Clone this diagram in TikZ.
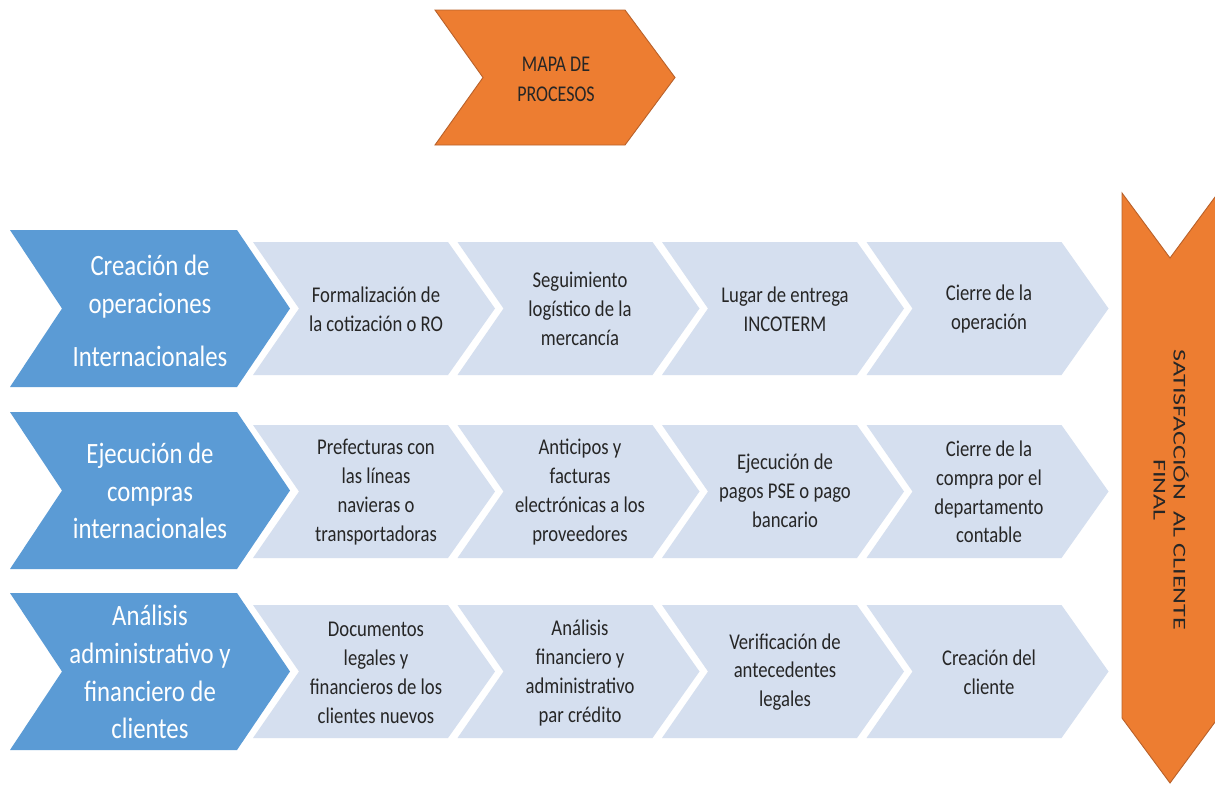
\documentclass[tikz,border=0pt]{standalone}
\usepackage{fontspec}
\setmainfont{Carlito}
\newfontfamily\bluefont{Carlito}[FakeStretch=0.84]
\newfontfamily\lightfont{Carlito}[FakeStretch=0.83]
\newfontfamily\mapfont{Carlito}[FakeStretch=0.8]
\newfontfamily\rotfont{Carlito}[FakeStretch=1.45]
\definecolor{blueA}{HTML}{5B9BD5}
\definecolor{lightA}{HTML}{D5DFEF}
\definecolor{orangeA}{HTML}{ED7D31}
\definecolor{orangeD}{HTML}{B9612A}
\definecolor{textD}{HTML}{262626}
\tikzset{
  bluechev/.style={fill=blueA},
  lightchev/.style={fill=lightA},
  orangechev/.style={fill=orangeA, draw=orangeD, line width=0.9pt, line join=miter},
  bluetext/.style={text=white, align=center, inner sep=0pt,
    font=\bluefont\fontsize{29.5}{37.8}\selectfont},
  lighttext/.style={text=textD, align=center, inner sep=0pt,
    font=\lightfont\fontsize{22.5}{28.8}\selectfont},
  maptext/.style={text=textD, align=center, inner sep=0pt,
    font=\mapfont\fontsize{22.5}{30}\selectfont},
  rottext/.style={text=textD, align=center, inner sep=0pt, rotate=-90,
    font=\rotfont\fontsize{18}{20}\selectfont},
}
% horizontal chevron: style, left x, top y, bottom y, notch depth, top-right x, tip x
\newcommand\chevH[7]{%
  \path[#1] (#2,#3) -- (#6,#3) -- (#7,{(#3+#4)/2}) -- (#6,#4) -- (#2,#4)
    -- ({#2+#5},{(#3+#4)/2}) -- cycle;}
\begin{document}
\begin{tikzpicture}[x=1pt,y=-1pt]
\useasboundingbox (0,0) rectangle (1215,785);
\fill[white] (0,0) rectangle (1215,785);

% title chevron
\chevH{orangechev}{435}{10}{145}{48}{625}{675}
\node[maptext] (mapa) at (556,79) {MAPA DE\\PROCESOS};

% right vertical chevron
\path[orangechev] (1122,193) -- (1170,258) -- (1218,193) -- (1218,718)
  -- (1170,783) -- (1122,718) -- cycle;
\node[rottext] (satis) at (1171,490) {SATISFACCIÓN\ \ AL CLIENTE\\FINAL};

% rows
\foreach \r/\T/\t in {0/230/242, 1/412/425, 2/593/605}{
  \chevH{bluechev}{10}{\T}{\T+157}{52}{237}{290}
  \foreach \c in {0,1,2,3}{
    \pgfmathsetmacro\L{253+204.5*\c}
    \chevH{lightchev}{\L}{\t}{\t+133}{46}{\L+195}{\L+242}
  }
}

% row 1
\node[bluetext] (b1) at (150,311) {Creación de\\operaciones\\[15pt]Internacionales};
\node[lighttext] (a11) at (376,309) {Formalización de\\la cotización o RO};
\node[lighttext] (a12) at (580,309) {Seguimiento\\logístico de la\\mercancía};
\node[lighttext] (a13) at (785,309) {Lugar de entrega\\INCOTERM};
\node[lighttext] (a14) at (989,309) {Cierre de la\\operación};

% row 2
\node[bluetext] (b2) at (150,491) {Ejecución de\\compras\\internacionales};
\node[lighttext] (a21) at (376,492) {Prefecturas con\\las líneas\\navieras o\\transportadoras};
\node[lighttext] (a22) at (580,492) {Anticipos y\\facturas\\electrónicas a los\\proveedores};
\node[lighttext] (a23) at (785,491) {Ejecución de\\pagos PSE o pago\\bancario};
\node[lighttext] (a24) at (989,492) {Cierre de la\\compra por el\\departamento\\contable};

% row 3
\node[bluetext] (b3) at (150,672) {Análisis\\administrativo y\\financiero de\\clientes};
\node[lighttext] (a31) at (376,673) {Documentos\\legales y\\financieros de los\\clientes nuevos};
\node[lighttext] (a32) at (580,673) {Análisis\\financiero y\\administrativo\\par crédito};
\node[lighttext] (a33) at (785,672) {Verificación de\\antecedentes\\legales};
\node[lighttext] (a34) at (989,672) {Creación del\\cliente};
\end{tikzpicture}
\end{document}
